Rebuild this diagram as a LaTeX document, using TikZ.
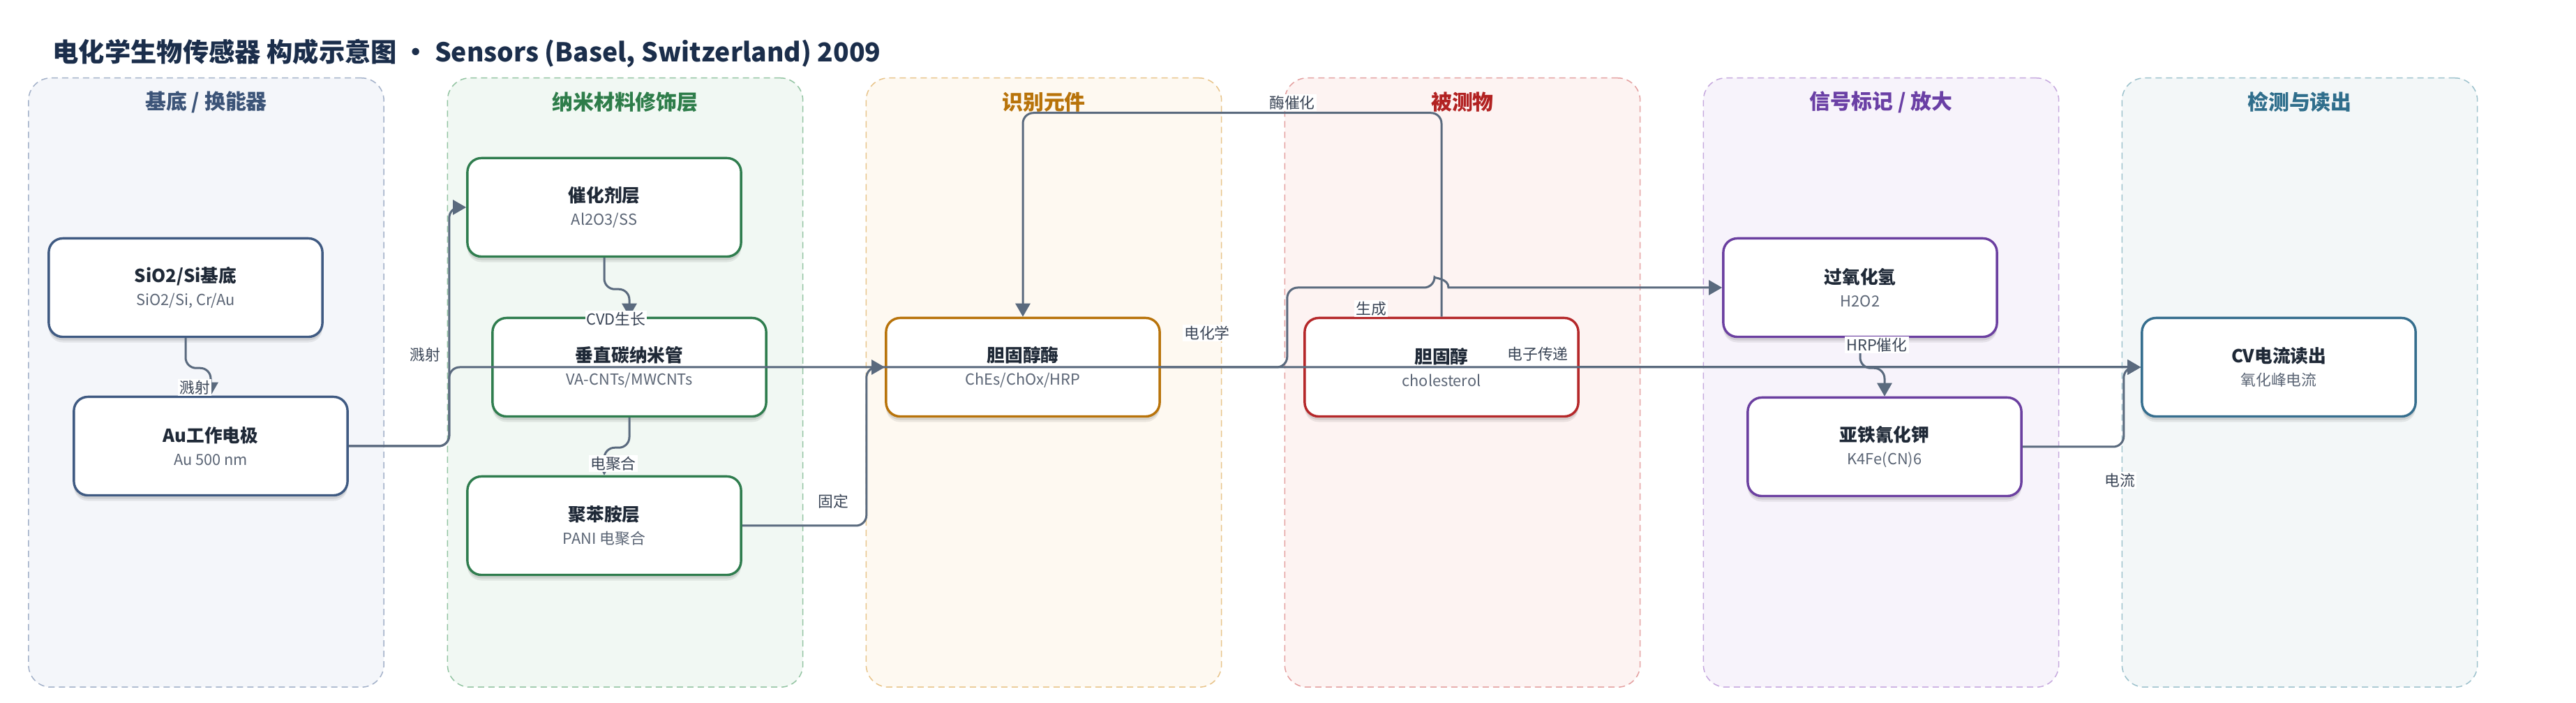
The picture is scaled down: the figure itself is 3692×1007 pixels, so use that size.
\documentclass[tikz,border=0pt]{standalone}
\usepackage{fontspec}
\setmainfont{Noto Sans CJK SC}
\usetikzlibrary{arrows.meta,shadows,calc}

\definecolor{edgec}{HTML}{5A6A7E}
\definecolor{maintc}{HTML}{1B2E4B}
\definecolor{titlec}{HTML}{1F2937}
\definecolor{subc}{HTML}{5B6575}
\definecolor{lblc}{HTML}{3A4556}
% lanes
\definecolor{laAf}{HTML}{F4F6FA}\definecolor{laAd}{HTML}{A3B1C9}\definecolor{laAt}{HTML}{3C5478}
\definecolor{laBf}{HTML}{F1F8F3}\definecolor{laBd}{HTML}{93C4A2}\definecolor{laBt}{HTML}{2E7D4A}
\definecolor{laCf}{HTML}{FEF9F1}\definecolor{laCd}{HTML}{E8C48A}\definecolor{laCt}{HTML}{B8730A}
\definecolor{laDf}{HTML}{FDF3F2}\definecolor{laDd}{HTML}{E4A0A0}\definecolor{laDt}{HTML}{B22222}
\definecolor{laEf}{HTML}{F7F3FB}\definecolor{laEd}{HTML}{C6A9DE}\definecolor{laEt}{HTML}{6A3FA5}
\definecolor{laFf}{HTML}{F3F7F8}\definecolor{laFd}{HTML}{9DC2CD}\definecolor{laFt}{HTML}{2F6E8C}
% node borders
\definecolor{bA}{HTML}{3F5A82}
\definecolor{bB}{HTML}{2F7D4E}
\definecolor{bC}{HTML}{B8730A}
\definecolor{bD}{HTML}{B5282A}
\definecolor{bE}{HTML}{6B3FA0}
\definecolor{bF}{HTML}{356E8E}

\newcommand\nt[1]{{\fontsize{7.3pt}{9.3pt}\selectfont\bfseries\color{titlec}#1}}

\tikzset{
  lanebox/.style 2 args={draw=#2, fill=#1, dash pattern=on 0.09cm off 0.06cm,
    line width=0.015cm, rounded corners=0.32cm, minimum width=5.09cm,
    minimum height=8.72cm, inner sep=0pt},
  lanetitle/.style={font=\fontsize{8.5pt}{10pt}\selectfont\bfseries, text=#1, inner sep=0pt},
  box/.style={draw=#1, fill=white, line width=0.034cm, rounded corners=0.2cm,
    minimum width=3.92cm, minimum height=1.41cm, inner sep=0pt, align=center,
    font=\fontsize{6.2pt}{9.3pt}\selectfont, text=subc,
    drop shadow={shadow xshift=0cm, shadow yshift=-0.08cm, opacity=0.07, fill=black},
    drop shadow={shadow xshift=0cm, shadow yshift=-0.05cm, opacity=0.09, fill=black}},
  edge/.style={draw=edgec, line width=0.03cm, rounded corners=0.15cm,
    -{Triangle[length=0.19cm,width=0.21cm]}},
  lbl/.style={fill=white, inner sep=0.02cm, font=\fontsize{6.2pt}{7pt}\selectfont, text=lblc}
}

\begin{document}
\begin{tikzpicture}[x=0.01cm, y=-0.01cm]
\fill[white] (0,0) rectangle (3692,1007);
\useasboundingbox (0,0) rectangle (3692,1007);

% title
\node[anchor=west, inner sep=0pt, font=\fontsize{10.6pt}{12pt}\selectfont\bfseries, text=maintc]
  (title) at (75,76) {电化学生物传感器 构成示意图 · Sensors (Basel, Switzerland) 2009};

% lanes
\node[lanebox={laAf}{laAd}] (LA) at (295.5,548) {};
\node[lanebox={laBf}{laBd}] (LB) at (896,548) {};
\node[lanebox={laCf}{laCd}] (LC) at (1496,548) {};
\node[lanebox={laDf}{laDd}] (LD) at (2096,548) {};
\node[lanebox={laEf}{laEd}] (LE) at (2696,548) {};
\node[lanebox={laFf}{laFd}] (LF) at (3296,548) {};

\node[lanetitle=laAt] (LAt) at (295.5,146) {基底 / 换能器};
\node[lanetitle=laBt] (LBt) at (896,146) {纳米材料修饰层};
\node[lanetitle=laCt] (LCt) at (1496,146) {识别元件};
\node[lanetitle=laDt] (LDt) at (2096,146) {被测物};
\node[lanetitle=laEt] (LEt) at (2696,146) {信号标记 / 放大};
\node[lanetitle=laFt] (LFt) at (3296,146) {检测与读出};

% nodes
\node[box=bA] (sio) at (266,412) {\nt{SiO2/Si基底}\\SiO2/Si, Cr/Au};
\node[box=bA] (au) at (302,639) {\nt{Au工作电极}\\Au 500 nm};
\node[box=bB] (cat) at (866,297) {\nt{催化剂层}\\Al2O3/SS};
\node[box=bB] (cnt) at (902,526) {\nt{垂直碳纳米管}\\VA-CNTs/MWCNTs};
\node[box=bB] (pani) at (866,753) {\nt{聚苯胺层}\\PANI 电聚合};
\node[box=bC] (che) at (1466,526) {\nt{胆固醇酶}\\ChEs/ChOx/HRP};
\node[box=bD] (chol) at (2066,526) {\nt{胆固醇}\\cholesterol};
\node[box=bE] (h2o2) at (2666,412) {\nt{过氧化氢}\\H2O2};
\node[box=bE] (fcn) at (2701,640) {\nt{亚铁氰化钾}\\K4Fe(CN)6};
\node[box=bF] (cv) at (3266,526) {\nt{CV电流读出}\\氧化峰电流};

% edges
\draw[edge] (sio.south) -- ++(0,43) -| (au.north);
\draw[edge] (au.east) -- ++(144,0) |- (cat.west);
\draw[edge] (au.east) -- ++(144,0) |- (cv.west);
\draw[edge] (cat.south) -- ++(0,45) -| (cnt.north);
\draw[edge] (cnt.south) -- ++(0,43) -| (pani.north);
\draw[edge] (pani.east) -- ++(178,0) |- (che.west);
\draw[edge] (chol.north) -- ++(0,-292) -| (che.north);
\draw[edge] (che.east) -- ++(181,0) |- (2056,412) [sharp corners]
   .. controls (2056,398.7) and (2076,398.7) .. (2076,412) -- (h2o2.west);
\draw[edge] (h2o2.south) -- ++(0,43) -| (fcn.north);
\draw[edge] (fcn.east) -- ++(145,0) |- (cv.west);
\draw[edge] (chol.east) -- (cv.west);

% edge labels
\node[lbl] (e1) at (279,555) {溅射};
\node[lbl] (e2) at (609,508) {溅射};
\node[lbl] (e3) at (883,457) {CVD生长};
\node[lbl] (e4) at (879,664) {电聚合};
\node[lbl] (e5) at (1194,718) {固定};
\node[lbl] (e6) at (1852,147) {酶催化};
\node[lbl] (e7) at (1730,477) {电化学};
\node[lbl] (e8) at (1965,442) {生成};
\node[lbl] (e9) at (2204,507) {电子传递};
\node[lbl] (e10) at (2690,494) {HRP催化};
\node[lbl] (e11) at (3038,688) {电流};
\end{tikzpicture}
\end{document}
